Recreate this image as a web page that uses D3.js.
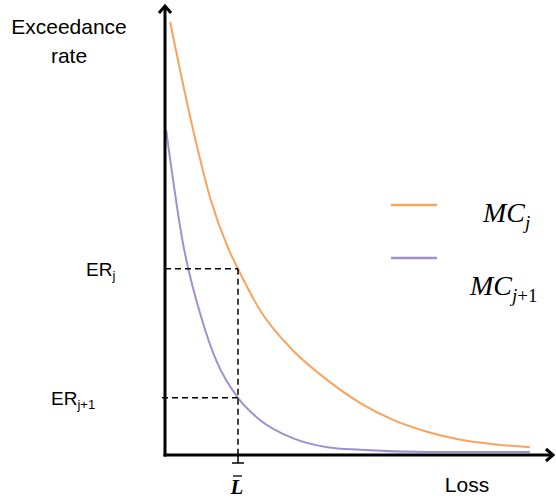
<!DOCTYPE html>
<html>
<head>
<meta charset="utf-8">
<script src="https://cdn.jsdelivr.net/npm/d3@7"></script>
<style>
  body { margin: 0; background: #fff; }
  text { font-family: "Liberation Sans", Arial, sans-serif; fill: #000; }
  .math { font-family: "Liberation Serif", "Times New Roman", serif; font-style: italic; }
</style>
</head>
<body>
<svg id="chart" width="556" height="499"></svg>
<script>
// loss positions (arbitrary units) and exceedance rates
var lossJ = [0.14, 0.77, 1.23, 1.73, 2, 2.6, 3.5, 4.45, 5.35, 6.25, 7.2, 8.1, 9, 10];
var rateJ = [1.0, 0.751, 0.596, 0.478, 0.43, 0.335, 0.242, 0.173, 0.12, 0.081, 0.053, 0.035, 0.025, 0.018];
var lossJ1 = [0.03, 0.49, 1.04, 1.42, 2, 2.6, 3.5, 4.45, 5.35, 7.2, 10];
var rateJ1 = [0.751, 0.49, 0.305, 0.215, 0.132, 0.081, 0.039, 0.018, 0.012, 0.007, 0.007];
var lossBar = 2;
var seriesNames = ['j', 'j+1'];
var colors = ['#f9a35e', '#a08fd2'];

(function () {
  'use strict';
  var svg = d3.select('#chart');
  var x = d3.scaleLinear().domain([0, 10]).range([165, 530]);
  var y = d3.scaleLinear().domain([0, 1]).range([455, 22]);

  var line = d3.line()
    .x(function (d) { return x(d[0]); })
    .y(function (d) { return y(d[1]); })
    .curve(d3.curveMonotoneX);

  var series = [d3.zip(lossJ, rateJ), d3.zip(lossJ1, rateJ1)];
  series.forEach(function (pts, i) {
    svg.append('path')
      .attr('d', line(pts))
      .attr('fill', 'none')
      .attr('stroke', colors[i])
      .attr('stroke-width', 2);
  });

  // dashed guides at L-bar
  var erJ = rateJ[lossJ.indexOf(lossBar)];
  var erJ1 = rateJ1[lossJ1.indexOf(lossBar)];
  var dash = svg.append('g')
    .attr('stroke', '#000')
    .attr('stroke-width', 1.5)
    .attr('stroke-dasharray', '6,4')
    .attr('fill', 'none');
  dash.append('line').attr('x1', x(0)).attr('x2', x(lossBar)).attr('y1', y(erJ)).attr('y2', y(erJ));
  dash.append('line').attr('x1', x(0) - 3).attr('x2', x(lossBar)).attr('y1', y(erJ1)).attr('y2', y(erJ1));
  dash.append('line').attr('x1', x(lossBar)).attr('x2', x(lossBar)).attr('y1', y(erJ)).attr('y2', y(0));

  // axes with arrow heads
  var ax = svg.append('g').attr('stroke', '#000').attr('fill', 'none')
    .attr('stroke-width', 3).attr('stroke-linecap', 'butt');
  ax.append('line').attr('x1', x(0)).attr('x2', x(0)).attr('y1', y(0) + 1.5).attr('y2', 7);
  ax.append('polyline').attr('points', [[x(0) - 6, 13], [x(0), 6], [x(0) + 6, 13]].join(' '));
  ax.append('line').attr('x1', x(0) - 1.5).attr('x2', 552).attr('y1', y(0)).attr('y2', y(0));
  ax.append('polyline').attr('points', [[546, y(0) - 6], [553, y(0)], [546, y(0) + 6]].join(' '));

  // tick under L-bar
  var tk = svg.append('g').attr('stroke', '#000').attr('stroke-width', 1.5);
  tk.append('line').attr('x1', x(lossBar)).attr('x2', x(lossBar)).attr('y1', y(0)).attr('y2', y(0) + 8);
  tk.append('line').attr('x1', x(lossBar) - 6).attr('x2', x(lossBar) + 6).attr('y1', y(0) + 8).attr('y2', y(0) + 8);

  // axis titles
  svg.append('text').attr('x', 69).attr('y', 34).attr('text-anchor', 'middle')
    .style('font-size', '21px').text('Exceedance');
  svg.append('text').attr('x', 69).attr('y', 63).attr('text-anchor', 'middle')
    .style('font-size', '21px').text('rate');
  svg.append('text').attr('x', 467).attr('y', 492).attr('text-anchor', 'middle')
    .style('font-size', '21px').text('Loss');

  // ER labels
  [[erJ, 'j', 86], [erJ1, 'j+1', 51]].forEach(function (d) {
    var t = svg.append('text').attr('x', d[2]).attr('y', y(d[0]) + 7).style('font-size', '19px');
    t.append('tspan').text('ER');
    t.append('tspan').attr('dy', 4).style('font-size', '13px').text(d[1]);
  });

  // L-bar label
  svg.append('text').attr('class', 'math').attr('x', x(lossBar) - 1).attr('y', 494)
    .attr('text-anchor', 'middle').style('font-size', '21px').style('font-weight', 'bold').text('L');
  svg.append('line').attr('x1', x(lossBar) - 5).attr('x2', x(lossBar) + 4)
    .attr('y1', 476).attr('y2', 476).attr('stroke', '#000').attr('stroke-width', 1.3);

  // legend
  var legY = [205, 258];
  var labX = [483, 470];
  var labY = [222, 295];
  seriesNames.forEach(function (name, i) {
    svg.append('line').attr('x1', 391).attr('x2', 437).attr('y1', legY[i]).attr('y2', legY[i])
      .attr('stroke', colors[i]).attr('stroke-width', 2.5);
    var t = svg.append('text').attr('class', 'math').attr('x', labX[i]).attr('y', labY[i])
      .style('font-size', '28px');
    t.append('tspan').text('MC');
    var sub = t.append('tspan').attr('dy', 7).style('font-size', '19px');
    sub.append('tspan').text('j');
    if (name !== 'j') sub.append('tspan').style('font-style', 'normal').text('+1');
  });
})();
</script>
</body>
</html>
